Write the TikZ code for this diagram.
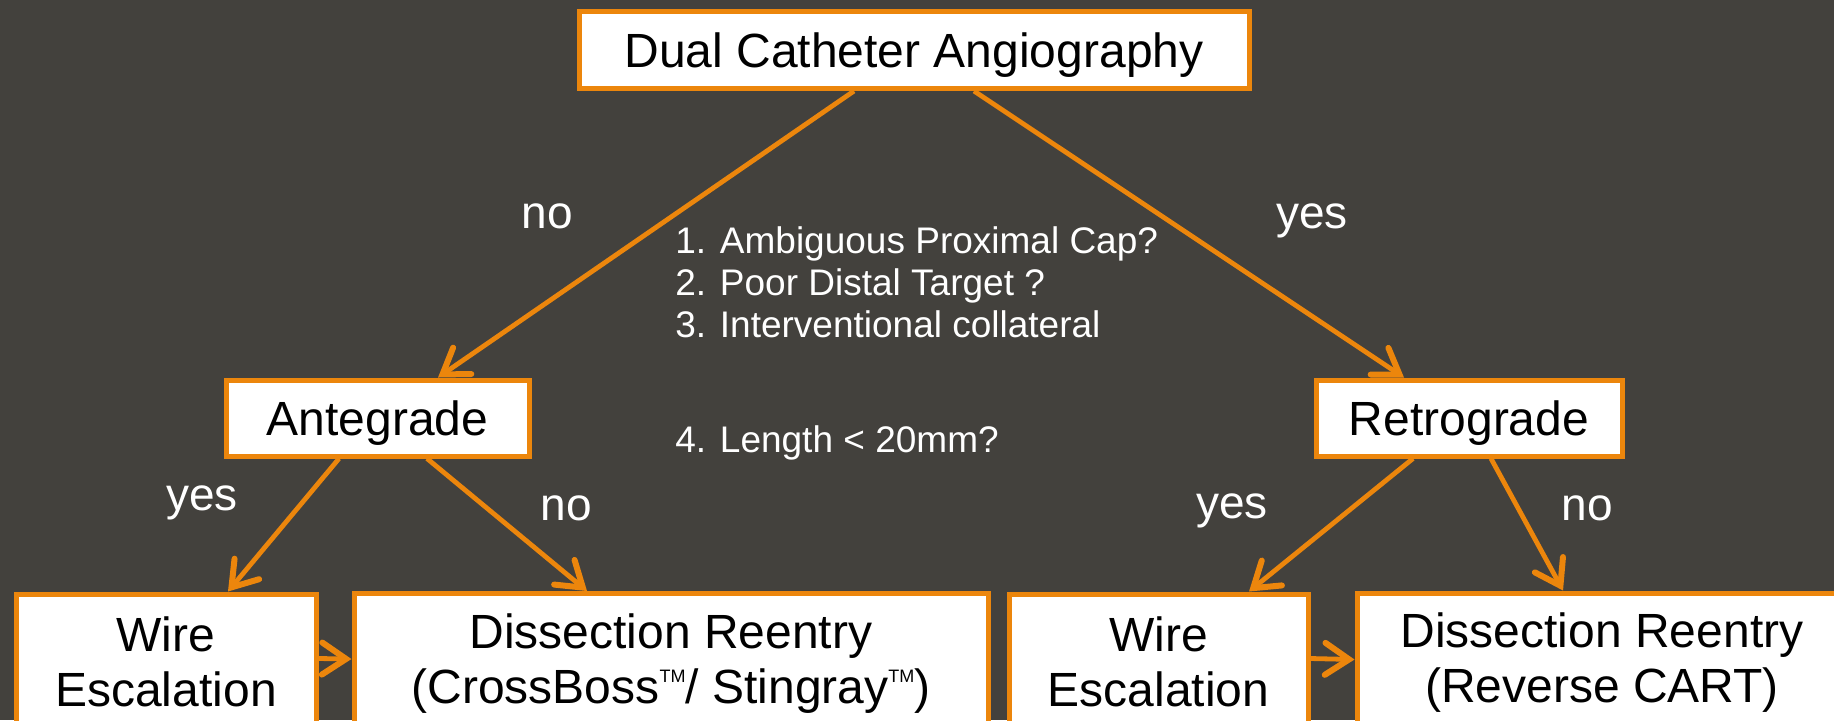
\documentclass[tikz,border=0pt]{standalone}
\usepackage{fontspec}
\setmainfont{Liberation Sans}
\usetikzlibrary{arrows.meta,calc}
\definecolor{bg}{RGB}{67,65,61}
\definecolor{orng}{RGB}{236,134,12}
\newcommand{\tmark}{\raisebox{10.5pt}{\fontsize{9}{9}\selectfont TM}}
\begin{document}
\begin{tikzpicture}[x=0.5pt,y=-0.5pt,
  box/.style={draw=orng,fill=white,line width=2.5pt,inner sep=0pt},
  one/.style={text depth=0pt,text height=17pt},
  btext/.style={text=black,align=center,font=\fontsize{24}{27.5}\selectfont},
  lbl/.style={text=white,font=\fontsize{23}{27}\selectfont},
  crit/.style={text=white,align=left,anchor=west,inner sep=0pt,font=\fontsize{18.5}{21}\selectfont},
  conn/.style={draw=orng,line width=2.4pt,-{Straight Barb[length=12pt,width=16pt,line width=3pt,line cap=round]}}]
\fill[bg] (0,0) rectangle (1834,720);
\useasboundingbox (0,0) rectangle (1834,720);
\clip (0,0) rectangle (1834,720);
% boxes
\node[box,btext,one,minimum width=335pt,minimum height=38.5pt] (top) at (914,50) {Dual Catheter Angiography};
\node[box,btext,one,minimum width=151.5pt,minimum height=38pt] (ante) at (377.5,418) {Antegrade};
\node[box,btext,one,minimum width=153pt,minimum height=38pt] (retro) at (1469,418) {Retrograde};
\node[box,minimum width=150pt,minimum height=83pt] (lwire) at (166,677) {};
\node[box,minimum width=317pt,minimum height=83pt] (ldis) at (671,676.5) {};
\node[box,minimum width=149.5pt,minimum height=83pt] (rwire) at (1158.5,677) {};
\node[box,minimum width=245.5pt,minimum height=83pt] (rdis) at (1602.5,676) {};
\node[btext] (lwiret) at (166,662) {Wire\\Escalation};
\node[btext] (ldist) at (671,664) {Dissection Reentry\\(CrossBoss\tmark/ Stingray\tmark)};
\node[btext] (rwiret) at (1158.5,662) {Wire\\Escalation};
\node[btext] (rdist) at (1602,663) {Dissection Reentry\\(Reverse CART)};
% connectors
\draw[conn] ($(top.south)+(-60,0)$) -- ($(ante.north)+(60.5,0)$);
\draw[conn] ($(top.south)+(60,0)$) -- ($(retro.north)+(-65,0)$);
\draw[conn] ($(ante.south)+(-38.5,0)$) -- ($(lwire.north)+(62,0)$);
\draw[conn] ($(ante.south)+(49.5,0)$) -- ($(ldis.north)+(-84,0)$);
\draw[conn] ($(lwire.north east)+(0,67)$) -- ($(ldis.north west)+(0,68)$);
\draw[conn] ($(retro.south)+(-56,0)$) -- ($(rwire.north)+(90.5,0)$);
\draw[conn] ($(retro.south)+(22,0)$) -- ($(rdis.north)+(-39.5,0)$);
\draw[conn] ($(rwire.north east)+(0,67)$) -- ($(rdis.north west)+(0,69)$);
% labels
\node[lbl] (no1) at (547,216) {no};
\node[lbl] (yes1) at (1312,221) {yes};
\node[lbl] (yes2) at (202,503) {yes};
\node[lbl] (no2) at (566,508) {no};
\node[lbl] (yes3) at (1232,511) {yes};
\node[lbl] (no3) at (1587,508) {no};
% criteria
\node[crit] (c123) at (675,282) {1. Ambiguous Proximal Cap?\\2. Poor Distal Target ?\\3. Interventional collateral};
\node[crit] (c4) at (675,443) {4. Length < 20mm?};
\end{tikzpicture}
\end{document}
